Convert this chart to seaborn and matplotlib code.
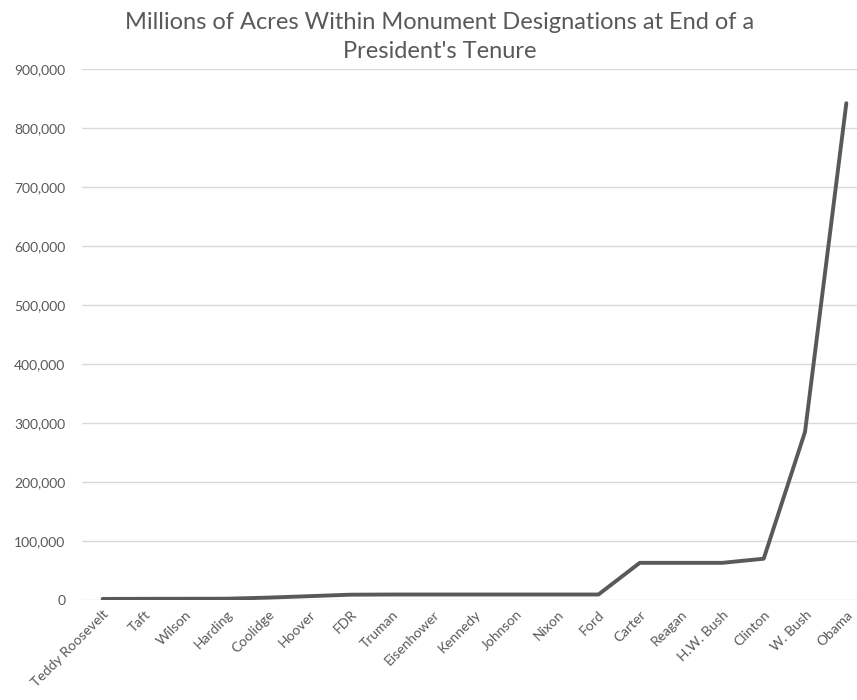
import pandas as pd
import seaborn as sns
import matplotlib.pyplot as plt
from matplotlib.ticker import FuncFormatter, MultipleLocator

# 数据
presidents = ['Teddy Roosevelt', 'Taft', 'Wilson', 'Harding', 'Coolidge', 'Hoover',
              'FDR', 'Truman', 'Eisenhower', 'Kennedy', 'Johnson', 'Nixon', 'Ford',
              'Carter', 'Reagan', 'H.W. Bush', 'Clinton', 'W. Bush', 'Obama']
acres = [1800, 2000, 2100, 2200, 4000, 6500, 9000, 9300, 9300, 9300, 9300, 9300, 9300,
         63000, 63000, 63000, 70000, 285000, 842000]

df = pd.DataFrame({'president': presidents, 'acres': acres})

sns.set_theme(style='white')
plt.rcParams['font.family'] = ['Lato', 'DejaVu Sans']
text_color = '#595959'

fig = plt.figure(figsize=(8.57, 7), dpi=100)
# 绘图区略超出右边缘（与原图一致）
ax = fig.add_axes([82 / 857, 100 / 700, 785 / 857, 531 / 700])

sns.lineplot(data=df, x='president', y='acres', sort=False, ax=ax,
             color='#595959', linewidth=2.8)

ax.set_xlim(-0.5, len(presidents) - 0.5)
ax.set_ylim(0, 900000)
ax.yaxis.set_major_locator(MultipleLocator(100000))
ax.yaxis.set_major_formatter(FuncFormatter(lambda v, p: f'{int(v):,}'))
ax.grid(axis='y', color='#d9d9d9', linewidth=1)
ax.set_axisbelow(True)
for s in ax.spines.values():
    s.set_visible(False)

ax.set_xlabel('')
ax.set_ylabel('')
ax.tick_params(axis='both', length=0, colors=text_color, labelsize=10)
ax.tick_params(axis='y', pad=12)
ax.tick_params(axis='x', pad=6)
plt.setp(ax.get_xticklabels(), rotation=45, ha='right', rotation_mode='anchor')

fig.text(440 / 857, 1 - 37 / 700,
         'Millions of Acres Within Monument Designations at End of a\nPresident\'s Tenure',
         ha='center', va='center', fontsize=17, color=text_color, linespacing=1.45)

plt.savefig('out.png', dpi=100)
